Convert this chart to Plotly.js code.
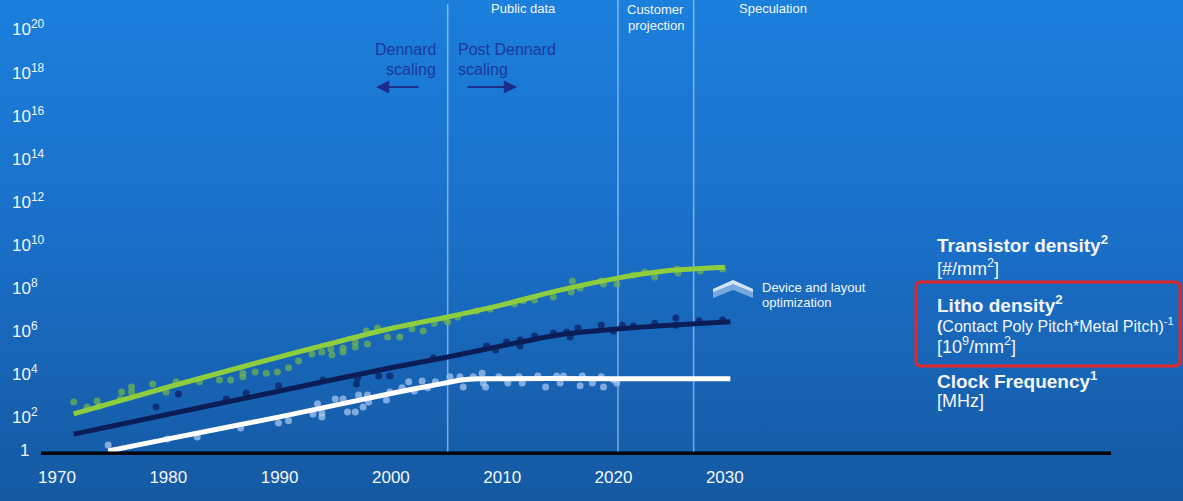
<!DOCTYPE html>
<html>
<head>
<meta charset="utf-8">
<script src="https://cdn.plot.ly/plotly-3.0.1.min.js"></script>
<style>
  html, body { margin:0; padding:0; width:1183px; height:501px; overflow:hidden;
    background: linear-gradient(to bottom, #1b7fdc 0%, #1a70c9 45%, #1559a2 100%); }
  #chart { width:1183px; height:501px; }
</style>
</head>
<body>
<div id="chart"></div>
<script>
// ---------------- data ----------------
const xTickVals = [1970, 1980, 1990, 2000, 2010, 2020, 2030];
const yTickVals = [1, 1e2, 1e4, 1e6, 1e8, 1e10, 1e12, 1e14, 1e16, 1e18, 1e20];
const yTickText = ['1', '10<sup>2</sup>', '10<sup>4</sup>', '10<sup>6</sup>', '10<sup>8</sup>',
  '10<sup>10</sup>', '10<sup>12</sup>', '10<sup>14</sup>', '10<sup>16</sup>', '10<sup>18</sup>', '10<sup>20</sup>'];

// era boundaries (years)
const eraYears = [2005.1, 2020.4, 2027.2];

// Transistor density (green)
const transLineYears = [1971.5, 1980, 1990, 2000, 2005, 2010, 2015, 2020, 2025, 2030];
const transLineVals  = [130, 2300, 5.8e4, 1.2e6, 4.0e6, 1.5e7, 6.8e7, 2.4e8, 5.8e8, 8.3e8];
const transPtYears = [1971.5,1972.7,1973.6,1973.8,1975.7,1975.8,1976.7,1976.7,1978.6,1979.8,1980.7,1982.8,1984.6,1985.6,1986.7,1986.7,1987.8,1988.8,1989.8,1990.8,1991.7,1992.9,1993.8,1994.6,1994.7,1995.7,1995.7,1996.8,1996.8,1997.8,1997.9,1998.8,1999.7,2000.8,2001.9,2002.9,2003.9,2004.9,2005.1,2006.0,2007.7,2008.9,2011.1,2011.9,2012.9,2014.6,2016.2,2016.3,2017.0,2018.9,2019.1,2020.3,2021.8,2022.8,2023.7,2025.7,2025.8,2027.8,2029.8];
const transPtVals = [470,275,515,300,645,1350,2300,1350,3200,1350,4000,4000,4900,4900,1.0e4,6800,1.15e4,1.0e4,1.15e4,1.8e4,3.7e4,7.9e4,9.8e4,1.35e5,7.1e4,9.8e4,1.5e5,1.65e5,2.8e5,9.1e5,2.3e5,1.26e6,4.8e5,4.8e5,1.15e6,9.1e5,2.1e6,3.3e6,2.4e6,4.1e6,7.8e6,9.5e6,1.65e7,2.3e7,2.5e7,3.5e7,5.9e7,1.9e8,9.1e7,1.9e8,1.4e8,1.4e8,3.6e8,5.0e8,2.9e8,6.9e8,4.5e8,5.6e8,6.9e8];

// Litho density (navy)
const lithoLineYears = [1971.5, 1980, 1990, 2000, 2005, 2010, 2015, 2020, 2025, 2030.5];
const lithoLineVals  = [15, 126, 1500, 1.8e4, 5.5e4, 1.9e5, 6.0e5, 1.1e6, 1.7e6, 2.45e6];
const lithoPtYears = [1978.9,1980.9,1985.2,1987.0,1989.9,1993.9,1996.9,1997.0,1998.9,1999.9,2003.8,2008.6,2009.4,2010.4,2011.6,2011.6,2012.9,2014.6,2015.8,2016.1,2016.8,2018.9,2020.0,2020.8,2021.8,2023.7,2025.6,2025.6,2027.7,2029.8];
const lithoPtVals = [275,1100,645,1230,2600,4900,3200,6000,7400,7400,5.1e4,1.85e5,1.2e5,2.8e5,3.5e5,1.85e5,5.4e5,7.4e5,8.3e5,4.8e5,1.26e6,1.7e6,9.1e5,1.7e6,1.55e6,2.1e6,3.7e6,1.7e6,2.7e6,3.0e6];

// Clock frequency (white)
const clockLineYears = [1974.6, 1980, 1990, 2000, 2004, 2005, 2006, 2007, 2008, 2020, 2030.5];
const clockLineVals  = [2.5, 9, 95, 1150, 2900, 3600, 4600, 5300, 5600, 5600, 5600];
const clockPtYears = [1974.6,1979.9,1982.6,1986.5,1989.9,1990.8,1993.0,1993.4,1993.8,1993.8,1995.0,1995.7,1996.1,1996.8,1997.1,1997.5,1997.9,1998.0,1999.6,1999.9,2001.0,2001.6,2002.1,2002.8,2003.3,2004.0,2005.3,2006.2,2006.5,2007.4,2008.2,2008.3,2008.5,2009.7,2010.5,2011.5,2011.8,2013.2,2013.9,2014.9,2015.2,2015.5,2017.0,2017.2,2018.1,2018.9,2019.1,2020.0,2020.3];
const clockPtVals = [4.7,9,11,29,49,62,129,380,93,145,645,645,160,160,980,275,980,470,575,1350,2100,4000,1500,4400,2100,4000,6800,6800,2300,6800,1.0e4,3500,2300,6800,3500,6800,3500,7400,2300,7400,3500,7400,2600,7400,3500,6800,2300,4900,3500];

// ---------------- layout helpers ----------------
const W = 1183, H = 501, ML = 41, MR = 72, MT = 0, MB = 48;
const PW = W - ML - MR, PH = H - MT - MB;
const PX = x => (x - ML) / PW;           // pixel -> paper x
const PY = y => (H - MB - y) / PH;       // pixel -> paper y
const FONT = 'Liberation Sans, Arial, sans-serif';
const TXT = '#f2f6fc';

const traces = [
  { x: transPtYears, y: transPtVals, type: 'scatter', mode: 'markers',
    marker: { size: 7, color: 'rgba(108,178,82,0.75)' }, hoverinfo: 'skip' },
  { x: lithoPtYears, y: lithoPtVals, type: 'scatter', mode: 'markers',
    marker: { size: 7, color: 'rgba(14,40,108,0.85)' }, hoverinfo: 'skip' },
  { x: clockPtYears, y: clockPtVals, type: 'scatter', mode: 'markers',
    marker: { size: 7, color: 'rgba(170,200,240,0.72)' }, hoverinfo: 'skip' },
  { x: transLineYears, y: transLineVals, type: 'scatter', mode: 'lines',
    line: { color: '#8dcd3e', width: 5, shape: 'spline', smoothing: 0.6 }, hoverinfo: 'skip' },
  { x: lithoLineYears, y: lithoLineVals, type: 'scatter', mode: 'lines',
    line: { color: '#0b1d57', width: 5, shape: 'spline', smoothing: 0.6 }, hoverinfo: 'skip' },
  { x: clockLineYears, y: clockLineVals, type: 'scatter', mode: 'lines',
    line: { color: '#ffffff', width: 5, shape: 'spline', smoothing: 0.5 }, hoverinfo: 'skip' }
];

const annotations = [];
// y tick labels
yTickVals.forEach((v, i) => {
  if (i === 0) {
    annotations.push({ xref: 'paper', yref: 'paper', x: PX(24), y: PY(450), xanchor: 'center', yanchor: 'middle',
      text: yTickText[i], showarrow: false, font: { family: FONT, size: 17, color: TXT } });
  } else {
    annotations.push({ xref: 'paper', yref: 'y', x: PX(10), y: Math.log10(v), xanchor: 'left', yanchor: 'middle',
      yshift: 0, text: yTickText[i], showarrow: false, font: { family: FONT, size: 17, color: TXT } });
  }
});

function txt(text, x, y, size, anchor, color) {
  annotations.push({ xref: 'paper', yref: 'paper', x: PX(x), y: PY(y), xanchor: anchor,
    yanchor: 'middle', text: text, showarrow: false, font: { family: FONT, size: size, color: color } });
}
// era labels
txt('Public data', 523.7, 8.5, 13, 'center', TXT);
txt('Customer', 655.5, 9.5, 13, 'center', TXT);
txt('projection', 655.5, 26, 13, 'center', TXT);
txt('Speculation', 773, 8.5, 13, 'center', TXT);
// Dennard
const DEN = '#1d389c';
txt('Dennard', 438, 49.5, 16, 'right', DEN);
txt('scaling', 438, 69.5, 16, 'right', DEN);
txt('Post Dennard', 456, 49.5, 16, 'left', DEN);
txt('scaling', 456, 69.5, 16, 'left', DEN);
// arrows
annotations.push({ xref: 'paper', yref: 'paper', x: PX(376), y: PY(87), ax: 44, ay: 0, text: '',
  showarrow: true, arrowhead: 2, arrowsize: 1.2, arrowwidth: 2.2, arrowcolor: '#1b2e8e' });
annotations.push({ xref: 'paper', yref: 'paper', x: PX(517), y: PY(87), ax: -51, ay: 0, text: '',
  showarrow: true, arrowhead: 2, arrowsize: 1.2, arrowwidth: 2.2, arrowcolor: '#1b2e8e' });
// device note
txt('Device and layout', 760, 287, 13, 'left', TXT);
txt('optimization', 760, 302, 13, 'left', TXT);
// legend labels
txt('<b>Transistor density<sup>2</sup></b>', 935, 243.5, 19, 'left', TXT);
txt('[#/mm<sup>2</sup>]', 935, 267, 18, 'left', TXT);
txt('<b>Litho density<sup>2</sup></b>', 935, 303.5, 19, 'left', TXT);
txt('<b>(</b>Contact Poly Pitch*Metal Pitch)<sup>-1</sup>', 935, 324.5, 16, 'left', TXT);
txt('[10<sup>9</sup>/mm<sup>2</sup>]', 935, 345, 18, 'left', TXT);
txt('<b>Clock Frequency<sup>1</sup></b>', 935, 380, 19, 'left', TXT);
txt('[MHz]', 935, 401, 18, 'left', TXT);

const shapes = [];
eraYears.forEach((yr, i) => {
  shapes.push({ type: 'line', xref: 'x', yref: 'paper', x0: yr, x1: yr, y0: 0, y1: i === 0 ? PY(4) : 1,
    line: { color: 'rgba(195,222,255,0.6)', width: 1.5 }, layer: 'below' });
});
// axis base line
shapes.push({ type: 'line', xref: 'paper', yref: 'paper', x0: 0, x1: 1, y0: PY(453.3), y1: PY(453.3),
  line: { color: '#030303', width: 3.6 }, layer: 'above' });
// chevron
function P(pts) { return 'M ' + pts.map(p => PX(p[0]).toFixed(5) + ',' + PY(p[1]).toFixed(5)).join(' L ') + ' Z'; }
shapes.push({ type: 'path', xref: 'paper', yref: 'paper',
  path: P([[713,289],[733,280],[753,289],[753,298],[733,290],[713,298]]),
  fillcolor: 'rgba(150,188,232,0.75)', line: { width: 0 } });
shapes.push({ type: 'path', xref: 'paper', yref: 'paper',
  path: P([[713,289],[733,280],[753,289],[753,292],[733,284],[713,292]]),
  fillcolor: 'rgba(245,249,253,0.75)', line: { width: 0 } });
// red box with rounded corners
(function () {
  const x0 = 916, x1 = 1180, y0 = 282, y1 = 366, r = 5;
  const pts = [
    `M ${PX(x0 + r)},${PY(y0)}`, `L ${PX(x1 - r)},${PY(y0)}`, `Q ${PX(x1)},${PY(y0)} ${PX(x1)},${PY(y0 + r)}`,
    `L ${PX(x1)},${PY(y1 - r)}`, `Q ${PX(x1)},${PY(y1)} ${PX(x1 - r)},${PY(y1)}`,
    `L ${PX(x0 + r)},${PY(y1)}`, `Q ${PX(x0)},${PY(y1)} ${PX(x0)},${PY(y1 - r)}`,
    `L ${PX(x0)},${PY(y0 + r)}`, `Q ${PX(x0)},${PY(y0)} ${PX(x0 + r)},${PY(y0)}`, 'Z'];
  shapes.push({ type: 'path', xref: 'paper', yref: 'paper', path: pts.join(' '),
    line: { color: '#e3262b', width: 3 }, fillcolor: 'rgba(0,0,0,0)' });
})();

const layout = {
  width: W, height: H,
  margin: { l: ML, r: MR, t: MT, b: MB, pad: 0 },
  paper_bgcolor: 'rgba(0,0,0,0)', plot_bgcolor: 'rgba(0,0,0,0)',
  showlegend: false,
  font: { family: FONT, size: 17, color: TXT },
  xaxis: { range: [1968.56, 2064.7], tickvals: xTickVals, ticks: '', showgrid: false, zeroline: false,
    showline: false, ticklabelstandoff: 12, tickfont: { family: FONT, size: 17, color: TXT }, fixedrange: true },
  yaxis: { type: 'log', range: [0.30, 21.32], showticklabels: false, showgrid: false, zeroline: false,
    showline: false, ticks: '', fixedrange: true },
  annotations: annotations,
  shapes: shapes
};

Plotly.newPlot('chart', traces, layout, { displayModeBar: false, staticPlot: true });
</script>
</body>
</html>
